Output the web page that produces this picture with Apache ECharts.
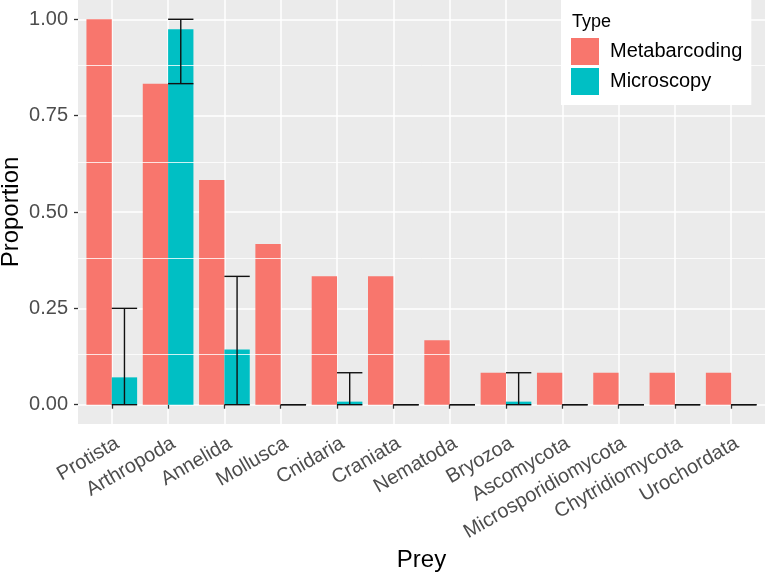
<!DOCTYPE html>
<html>
<head>
<meta charset="utf-8">
<script src="https://cdn.jsdelivr.net/npm/echarts@6/dist/echarts.min.js"></script>
<style>html,body{margin:0;padding:0;background:#fff;}#chart{width:767px;height:576px;}</style>
</head>
<body>
<div id="chart"></div>
<script>
var categories = ['Protista','Arthropoda','Annelida','Mollusca','Cnidaria','Craniata','Nematoda','Bryozoa','Ascomycota','Microsporidiomycota','Chytridiomycota','Urochordata'];
var metabarcoding = [1.0, 0.833, 0.583, 0.417, 0.333, 0.333, 0.167, 0.083, 0.083, 0.083, 0.083, 0.083];
var microscopy = [0.071, 0.974, 0.143, 0, 0.008, 0, 0, 0.008, 0, 0, 0, 0];
var microLow = [0, 0.833, 0, 0, 0, 0, 0, 0, 0, 0, 0, 0];
var microHigh = [0.25, 1.0, 0.333, 0, 0.083, 0, 0, 0.083, 0, 0, 0, 0];
var yTicks = [0, 0.25, 0.5, 0.75, 1.0];
var yMinor = [0.125, 0.375, 0.625, 0.875];

var FONT = '"Liberation Sans", Arial, sans-serif';
var positions = categories.map(function (c, i) { return i + 1; });
var labelPositions = positions.map(function (p) { return p + 0.1; });

var chart = echarts.init(document.getElementById('chart'), null, {renderer: 'canvas'});

var option = {
  animation: false,
  backgroundColor: '#ffffff',
  textStyle: {fontFamily: FONT},
  grid: {left: 78, right: 2, top: 0, bottom: 152, show: true, backgroundColor: '#EBEBEB', borderWidth: 0, containLabel: false, outerBoundsMode: 'none'},
  title: {
    text: 'Type', left: 572, top: 13, padding: 0, z: 10,
    textStyle: {fontFamily: FONT, fontSize: 18, fontWeight: 'normal', color: '#000'}
  },
  legend: {
    data: ['Metabarcoding', 'Microscopy'],
    orient: 'vertical', left: 561, top: 0,
    padding: [38, 9, 10, 10],
    backgroundColor: '#ffffff',
    icon: 'rect', itemWidth: 28, itemHeight: 27, itemGap: 3,
    textStyle: {fontFamily: FONT, fontSize: 20, color: '#000', padding: [0, 0, 0, 6]}
  },
  xAxis: {
    type: 'value', min: 0.4, max: 12.6,
    name: 'Prey', nameLocation: 'middle', nameGap: 124, nameMoveOverlap: false,
    nameTextStyle: {fontFamily: FONT, fontSize: 24, color: '#000'},
    axisLine: {show: false},
    axisTick: {show: true, length: 4, lineStyle: {color: '#333', width: 1.3}, customValues: positions},
    axisLabel: {
      customValues: labelPositions, rotate: 30, margin: 18,
      fontFamily: FONT, fontSize: 20, color: '#4D4D4D',
      formatter: function (v) { return categories[Math.round(v) - 1] || ''; }
    },
    splitLine: {show: true, lineStyle: {color: '#ffffff', width: 1.5}}
  },
  yAxis: {
    type: 'value', min: -0.05, max: 1.05,
    name: 'Proportion', nameLocation: 'middle', nameGap: 55, nameRotate: 90, nameMoveOverlap: false,
    nameTextStyle: {fontFamily: FONT, fontSize: 24, color: '#000'},
    axisLine: {show: false},
    axisTick: {show: true, length: 4, lineStyle: {color: '#333', width: 1.3}, customValues: yTicks},
    axisLabel: {
      customValues: yTicks, margin: 10,
      fontFamily: FONT, fontSize: 20, color: '#4D4D4D',
      formatter: function (v) { return v.toFixed(2); }
    },
    splitLine: {show: true, lineStyle: {color: '#ffffff', width: 1.5}}
  },
  series: [
    {
      name: 'minor', type: 'line', data: [], z: 1, silent: true,
      markLine: {
        silent: true, symbol: 'none', animation: false,
        label: {show: false},
        lineStyle: {color: '#ffffff', width: 0.8, type: 'solid'},
        data: yMinor.map(function (v) { return {yAxis: v}; })
      }
    },
    {
      name: 'Metabarcoding', type: 'bar', barWidth: '45%', barGap: '0%',
      itemStyle: {color: '#F8766D'},
      data: metabarcoding.map(function (v, i) { return [positions[i], v]; })
    },
    {
      name: 'Microscopy', type: 'bar', barWidth: '45%', barGap: '0%',
      itemStyle: {color: '#00BFC4'},
      data: microscopy.map(function (v, i) { return [positions[i], v]; })
    },
    {
      name: 'errors', type: 'custom', z: 5, silent: true,
      encode: {x: 0, y: [1, 2]},
      data: microLow.map(function (lo, i) { return [positions[i], lo, microHigh[i]]; }),
      renderItem: function (params, api) {
        var x = api.value(0), lo = api.value(1), hi = api.value(2);
        var bw = api.size([1, 0])[0];
        var off = bw * 0.225;
        var half = bw * 0.225;
        var pLo = api.coord([x, lo]);
        var pHi = api.coord([x, hi]);
        var cx = pLo[0] + off;
        var st = {stroke: '#111111', lineWidth: 1.4};
        return {
          type: 'group',
          children: [
            {type: 'line', shape: {x1: cx, y1: pLo[1], x2: cx, y2: pHi[1]}, style: st},
            {type: 'line', shape: {x1: cx - half, y1: pLo[1], x2: cx + half, y2: pLo[1]}, style: st},
            {type: 'line', shape: {x1: cx - half, y1: pHi[1], x2: cx + half, y2: pHi[1]}, style: st}
          ]
        };
      }
    }
  ]
};
chart.setOption(option);
</script>
</body>
</html>
